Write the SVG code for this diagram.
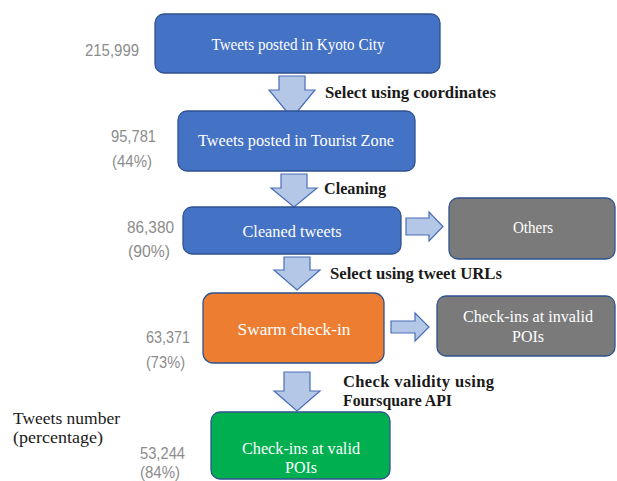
<svg xmlns="http://www.w3.org/2000/svg" width="617" height="481" viewBox="0 0 617 481">
<style>
.box{stroke:#2f528f;stroke-width:1.3}
.blue{fill:#4472c4}
.gray{fill:#7a7a7a}
.orange{fill:#ed7d31}
.green{fill:#00b050}
.bt{font-family:"Liberation Serif","Times New Roman",serif;font-size:16px;fill:#ffffff;text-anchor:middle}
.num{font-family:"Liberation Sans",Arial,sans-serif;font-size:16px;fill:#8c8c8c}
.lbl{font-family:"Liberation Serif","Times New Roman",serif;font-size:16.5px;font-weight:bold;fill:#1a1a1a}
.legend{font-family:"Liberation Serif","Times New Roman",serif;font-size:17px;fill:#1a1a1a}
.arr{fill:#b4c7e7;stroke:#4a6fb5;stroke-width:1.2;stroke-linejoin:miter}
</style>
<rect width="617" height="481" fill="#ffffff"/>
<g id="connectors">
<path class="arr" d="M279,76 H305 V90 H315 L292,118 L269,90 H279 Z"/>
<path class="arr" d="M281,174 H307 V188 H317 L294,207 L271,188 H281 Z"/>
<path class="arr" d="M284,257 H310 V270 H320 L297,290 L274,270 H284 Z"/>
<path class="arr" d="M284,372 H310 V391 H320 L297,411 L274,391 H284 Z"/>
<path class="arr" d="M406,218 H429 V212 L443,226.5 L429,241 V235 H406 Z"/>
<path class="arr" d="M391,321 H415 V313 L429,327 L415,341 V333 H391 Z"/>
<text class="lbl" x="325" y="98" textLength="171" lengthAdjust="spacingAndGlyphs">Select using coordinates</text>
<text class="lbl" x="324" y="194" textLength="62" lengthAdjust="spacingAndGlyphs">Cleaning</text>
<text class="lbl" x="330" y="279" textLength="172" lengthAdjust="spacingAndGlyphs">Select using tweet URLs</text>
<text class="lbl" x="343" y="387" textLength="151" lengthAdjust="spacing">Check validity using</text>
<text class="lbl" x="343" y="406" textLength="109" lengthAdjust="spacingAndGlyphs">Foursquare API</text>
</g>
<g id="kyoto">
<rect class="box blue" x="155" y="14" width="285" height="59" rx="9"/>
<text class="bt" x="298" y="50" textLength="173" lengthAdjust="spacingAndGlyphs">Tweets posted in Kyoto City</text>
<text class="num" x="85" y="56" textLength="54" lengthAdjust="spacingAndGlyphs">215,999</text>
</g>
<g id="tourist">
<rect class="box blue" x="178" y="111" width="237" height="60" rx="9"/>
<text class="bt" x="296" y="146" textLength="196" lengthAdjust="spacingAndGlyphs">Tweets posted in Tourist Zone</text>
<text class="num" x="111" y="142" textLength="45" lengthAdjust="spacingAndGlyphs">95,781</text>
<text class="num" x="112" y="167" textLength="40" lengthAdjust="spacingAndGlyphs">(44%)</text>
</g>
<g id="cleaned">
<rect class="box blue" x="183" y="207" width="218" height="47" rx="9"/>
<text class="bt" x="292" y="237" textLength="99" lengthAdjust="spacingAndGlyphs">Cleaned tweets</text>
<text class="num" x="127" y="233" textLength="47" lengthAdjust="spacingAndGlyphs">86,380</text>
<text class="num" x="128" y="257" textLength="42" lengthAdjust="spacingAndGlyphs">(90%)</text>
</g>
<g id="others">
<rect class="box gray" x="449" y="198" width="166" height="61" rx="9"/>
<text class="bt" x="533" y="233" textLength="40" lengthAdjust="spacingAndGlyphs">Others</text>
</g>
<g id="swarm">
<rect class="box orange" x="203" y="293" width="181" height="70" rx="10"/>
<text class="bt" x="294" y="335" textLength="113" lengthAdjust="spacingAndGlyphs">Swarm check-in</text>
<text class="num" x="146" y="343" textLength="44" lengthAdjust="spacingAndGlyphs">63,371</text>
<text class="num" x="146" y="368" textLength="39" lengthAdjust="spacingAndGlyphs">(73%)</text>
</g>
<g id="invalid">
<rect class="box gray" x="437" y="296" width="178" height="60" rx="9"/>
<text class="bt" x="528" y="322" textLength="130" lengthAdjust="spacingAndGlyphs">Check-ins at invalid</text>
<text class="bt" x="528" y="342">POIs</text>
</g>
<g id="valid">
<rect class="box green" x="211" y="412" width="179" height="67" rx="9"/>
<text class="bt" x="301" y="454" textLength="118" lengthAdjust="spacingAndGlyphs">Check-ins at valid</text>
<text class="bt" x="301" y="473">POIs</text>
<text class="num" x="140" y="459" textLength="45" lengthAdjust="spacingAndGlyphs">53,244</text>
<text class="num" x="140" y="478" textLength="40" lengthAdjust="spacingAndGlyphs">(84%)</text>
</g>
<g id="legend">
<text class="legend" x="13" y="424" textLength="107" lengthAdjust="spacingAndGlyphs">Tweets number</text>
<text class="legend" x="13" y="443" textLength="90" lengthAdjust="spacingAndGlyphs">(percentage)</text>
</g>
</svg>
